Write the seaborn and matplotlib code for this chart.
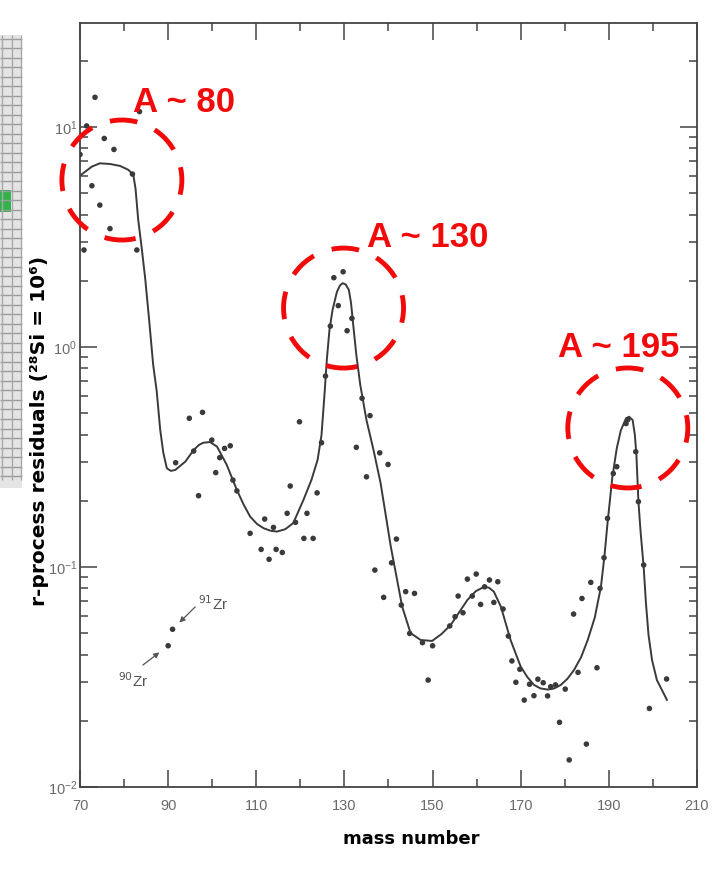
import numpy as np
import pandas as pd
import matplotlib
matplotlib.use("Agg")
import matplotlib.pyplot as plt
import matplotlib.transforms as mtransforms
from matplotlib.patches import Circle, Rectangle
from matplotlib.ticker import FixedLocator, LogLocator, NullFormatter
import seaborn as sns

# r-process residual abundances, stored as log10 (Si = 10^6)
dot_mass = [
    70.0, 70.9, 71.5, 72.7, 73.4, 74.5, 75.5, 76.8, 77.7, 81.9, 82.9, 83.5,
    91.7, 94.8, 95.8, 96.9, 97.8, 99.9, 100.8, 101.7, 102.8, 104.1, 104.7, 105.6,
    108.6, 111.1, 111.9, 112.9, 113.9, 114.5, 115.9, 117.0, 117.7, 118.9, 119.8,
    120.8, 121.5, 122.9, 123.8, 124.8, 125.7,
    126.8, 127.6, 128.6, 129.7, 130.6, 131.7, 132.7, 134.0, 135.0, 135.8, 138.0, 139.9,
    136.9, 138.9, 140.7, 141.8, 142.9, 143.9, 144.8, 145.9, 147.7, 149.0, 150.0,
    153.9, 155.1, 155.8, 156.9, 157.9, 159.0, 159.9, 160.9, 161.8, 162.9, 163.9,
    164.8, 166.0, 167.2, 168.0, 168.9, 169.8, 170.8, 172.0, 173.0, 173.9, 175.1,
    176.1, 176.8, 177.9, 178.8, 180.1, 181.0, 182.0, 183.0, 183.9, 184.9, 185.9,
    187.3, 188.0, 188.9, 189.7, 191.0, 191.8, 193.9, 194.3, 196.1, 196.7, 197.9,
    199.2, 203.1,
]
dot_log = [
    0.875, 0.441, 1.005, 0.733, 1.135, 0.645, 0.948, 0.538, 0.898, 0.786, 0.441, 1.070,
    -0.526, -0.324, -0.473, -0.676, -0.297, -0.423, -0.571, -0.503, -0.461, -0.449, -0.605, -0.654,
    -0.847, -0.920, -0.782, -0.965, -0.820, -0.920, -0.934, -0.756, -0.632, -0.797, -0.340,
    -0.870, -0.756, -0.870, -0.663, -0.435, -0.132,
    0.095, 0.315, 0.188, 0.342, 0.074, 0.130, -0.456, -0.233, -0.590, -0.312, -0.481, -0.534,
    -1.014, -1.138, -0.981, -0.873, -1.173, -1.112, -1.302, -1.120, -1.344, -1.514, -1.358,
    -1.268, -1.226, -1.132, -1.208, -1.055, -1.132, -1.032, -1.170, -1.090, -1.059, -1.161,
    -1.067, -1.191, -1.314, -1.427, -1.524, -1.465, -1.605, -1.533, -1.585, -1.510, -1.526,
    -1.586, -1.544, -1.536, -1.706, -1.555, -1.877, -1.214, -1.479, -1.143, -1.805, -1.070,
    -1.458, -1.097, -0.958, -0.779, -0.575, -0.544, -0.348, -0.330, -0.476, -0.703, -0.991,
    -1.643, -1.509,
]

# Zirconium isotopes, labelled separately
zr_mass = [90, 91]
zr_log = [-1.358, -1.283]
zr_labels = ["$^{90}$Zr", "$^{91}$Zr"]

# Smooth fit through the residuals
fit_mass = [
    70.2, 72.7, 74.5, 76.8, 79.1, 81.0, 82.1, 82.6, 83.2, 84.0, 84.8, 85.7, 86.6,
    87.4, 88.2, 88.9, 89.7, 90.6, 91.6, 93.9, 95.8, 97.0, 98.0, 99.5, 101.1, 103.3,
    105.6, 107.1, 108.6, 110.2, 111.7, 113.2, 114.7, 116.6, 118.4, 120.7, 122.5,
    123.9, 124.8, 125.45, 126.0, 126.6, 127.3, 128.3, 129.0, 129.6, 130.3, 131.0,
    131.5, 132.0, 132.7, 133.6, 135.0, 136.6, 138.2, 140.5, 143.1, 145.0, 147.3,
    149.9, 152.0, 154.1, 157.9, 159.8, 161.7, 162.8, 163.9, 165.5, 167.7, 170.0,
    171.5, 173.0, 174.5, 176.1, 177.6, 179.1, 180.6, 182.1, 183.7, 185.2, 186.8,
    188.2, 189.0, 189.7, 190.8, 191.8, 192.7, 193.9, 194.6, 195.4, 195.9, 196.25,
    196.7, 197.2, 197.9, 198.4, 199.0, 199.8, 200.9, 203.2,
]
fit_log = [
    0.782, 0.820, 0.835, 0.832, 0.823, 0.805, 0.782, 0.720, 0.580, 0.450, 0.310, 0.120, -0.080,
    -0.200, -0.377, -0.480, -0.551, -0.563, -0.559, -0.521, -0.468, -0.445, -0.435, -0.432, -0.453,
    -0.536, -0.650, -0.715, -0.771, -0.805, -0.824, -0.835, -0.839, -0.828, -0.800, -0.695, -0.605,
    -0.514, -0.400, -0.223, -0.059, 0.077, 0.168, 0.251, 0.280, 0.290, 0.284, 0.260,
    0.200, 0.100, -0.036, -0.173, -0.332, -0.468, -0.618, -0.905, -1.180, -1.300, -1.332,
    -1.336, -1.305, -1.264, -1.150, -1.110, -1.090, -1.094, -1.112, -1.180, -1.332, -1.453,
    -1.500, -1.536, -1.552, -1.557, -1.552, -1.536, -1.508, -1.468, -1.410, -1.332, -1.230,
    -1.090, -0.950, -0.800, -0.590, -0.460, -0.380, -0.324, -0.317, -0.332, -0.400, -0.490,
    -0.700, -0.840, -1.000, -1.160, -1.309, -1.423, -1.514, -1.605,
]

# Abundance peaks that get highlighted
peak_mass = [79.5, 129.8, 194.3]
peak_log = [0.759, 0.177, -0.368]
peak_labels = ["A ~ 80", "A ~ 130", "A ~ 195"]

x_major = [70, 90, 110, 130, 150, 170, 190, 210]
x_minor = [80, 100, 120, 140, 160, 180, 200]

dots = pd.DataFrame({"mass": dot_mass + zr_mass,
                     "residual": 10.0 ** np.array(dot_log + zr_log)})
fit = pd.DataFrame({"mass": fit_mass, "residual": 10.0 ** np.array(fit_log)})

sns.set_theme(style="ticks")
plt.rcParams["font.family"] = ["Liberation Sans", "DejaVu Sans"]

W, H = 722, 872
fig = plt.figure(figsize=(W / 100, H / 100), dpi=100, facecolor="white")

# Grey ruler strip on the left page edge
strip = fig.add_axes([0, 1 - 488 / H, 24 / W, 453 / H])
strip.set_xlim(0, 24)
strip.set_ylim(453, 0)
strip.axis("off")
strip.add_patch(Rectangle((0, 0), 22, 453, facecolor="#e4e4e4", edgecolor="none"))
strip.hlines(np.arange(4, 450, 9.5), 0, 22, color="#9c9c9c", lw=1.0)
strip.vlines([2, 12, 21], 0, 445, color="#a8a8a8", lw=1.0)
strip.add_patch(Rectangle((0, 155), 11, 22, facecolor="#2fb34a", edgecolor="none"))

ax = fig.add_axes([80 / W, 1 - 787 / H, 617 / W, 764 / H])
ax.set_facecolor("white")

ink = "#3a3a3a"
sns.lineplot(data=fit, x="mass", y="residual", sort=False, estimator=None,
             color=ink, lw=1.4, ax=ax)
sns.scatterplot(data=dots, x="mass", y="residual", s=16, color=ink,
                edgecolor="none", linewidth=0, ax=ax, zorder=3)

ax.set_yscale("log")
ax.set_xlim(70, 210)
ax.set_ylim(0.01, 29.7)

ax.xaxis.set_major_locator(FixedLocator(x_major))
ax.xaxis.set_minor_locator(FixedLocator(x_minor))
ax.xaxis.set_minor_formatter(NullFormatter())
ax.yaxis.set_major_locator(LogLocator(base=10, numticks=10))
ax.yaxis.set_minor_locator(LogLocator(base=10, subs=np.arange(2, 10), numticks=20))
ax.yaxis.set_minor_formatter(NullFormatter())

ax.tick_params(which="both", direction="in", top=True, right=True,
               color="#444444", width=1.1, labelcolor="#6a6a6a", labelsize=10.5)
ax.tick_params(which="major", length=12)
ax.tick_params(which="minor", length=5.5)
ax.tick_params(axis="x", which="major", pad=9)
ax.tick_params(axis="y", which="major", pad=2)
for sp in ax.spines.values():
    sp.set_color("#444444")
    sp.set_linewidth(1.3)
    sp.set_visible(True)

ax.set_xlabel("mass number", fontsize=13, fontweight="bold", color="black",
              family="DejaVu Sans", va="center")
ax.xaxis.set_label_coords((411 - 80) / 617, (787 - 839) / 764)
ax.set_ylabel("r-process residuals (²⁸Si = 10⁶)", fontsize=14.5, fontweight="bold",
              color="black", family="DejaVu Sans", va="center")
ax.yaxis.set_label_coords((40 - 80) / 617, (787 - 431) / 764)

# Zr isotope call-outs: arrow tail offset, arrow gap and label offset (points)
zr_arrow = [((-18.2, -13.9), 7.9), ((16.3, 16.1), 6.9)]
zr_text = [(-36.0, -30.0), (18.4, 13.9)]
for m, lg, lab, (tail, gap), txt in zip(zr_mass, zr_log, zr_labels, zr_arrow, zr_text):
    ax.annotate("", xy=(m, 10 ** lg), xytext=tail, textcoords="offset points",
                arrowprops=dict(arrowstyle="-|>", color="#555555", lw=0.9,
                                mutation_scale=8, shrinkA=0, shrinkB=gap))
    ax.annotate(lab, xy=(m, 10 ** lg), xytext=txt, textcoords="offset points",
                ha="left", va="baseline", fontsize=11, color="#555555")

# Highlight the three r-process peaks
red = "#f20a0a"
label_offsets = [(8, 49), (17, 44), (-50, 51)]
for m, lg, lab, off in zip(peak_mass, peak_log, peak_labels, label_offsets):
    shift = mtransforms.ScaledTranslation(m, 10 ** lg, ax.transData)
    ring = Circle((0, 0), radius=0.6, transform=fig.dpi_scale_trans + shift,
                  fill=False, edgecolor=red, lw=3.5, clip_on=False,
                  linestyle=(2.85, (5.7, 3.9)), zorder=5)
    ax.add_patch(ring)
    ax.annotate(lab, xy=(m, 10 ** lg), xytext=off, textcoords="offset points",
                ha="left", va="baseline", fontsize=25, fontweight="bold",
                color=red, family="Liberation Sans", zorder=6)

fig.savefig("out.png", dpi=100, facecolor=fig.get_facecolor())
